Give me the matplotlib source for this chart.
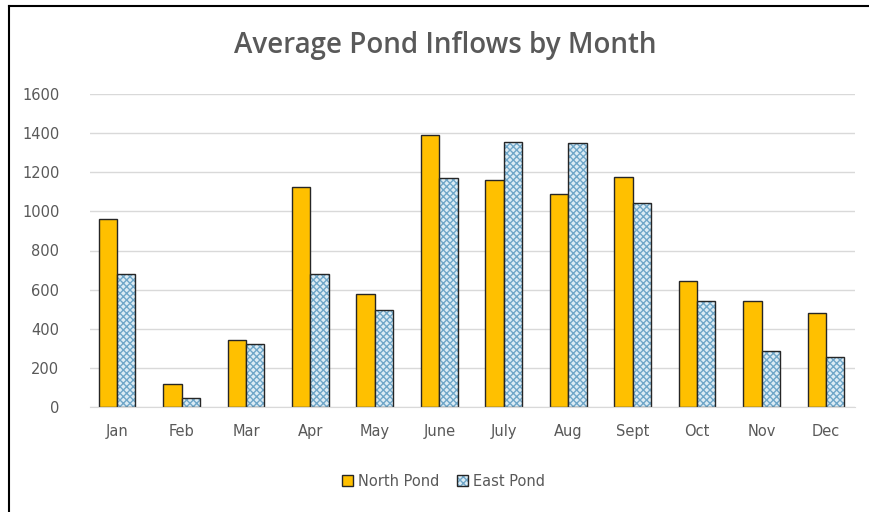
import matplotlib.pyplot as plt
import numpy as np
from matplotlib.lines import Line2D
from matplotlib.patches import Patch
from matplotlib.legend_handler import HandlerTuple

months = ['Jan', 'Feb', 'Mar', 'Apr', 'May', 'June', 'July', 'Aug', 'Sept', 'Oct', 'Nov', 'Dec']
north_pond = [960, 120, 345, 1125, 580, 1390, 1160, 1090, 1175, 645, 540, 480]
east_pond = [680, 45, 320, 680, 495, 1170, 1355, 1350, 1045, 540, 286, 256]
y_ticks = [0, 200, 400, 600, 800, 1000, 1200, 1400, 1600]

NORTH_COLOR = '#ffc000'
EAST_FACE = '#dcecf5'
EAST_HATCH = '#6fa6c8'
EDGE = '#262626'
TEXT_GRAY = '#595959'

plt.rcParams['hatch.linewidth'] = 1.0

fig = plt.figure(figsize=(8.69, 5.12), dpi=100)
ax = fig.add_axes([90 / 869, 1 - 407 / 512, 765 / 869, 313 / 512])

x = np.arange(len(months))
w = 0.285

ax.bar(x - w / 2, north_pond, w, color=NORTH_COLOR, edgecolor=EDGE, linewidth=1.0, zorder=3)
# hatched fill first, then a plain outline on top so the edge stays dark
ax.bar(x + w / 2, east_pond, w, color=EAST_FACE, hatch='xxxxx', edgecolor=EAST_HATCH, linewidth=0, zorder=3)
ax.bar(x + w / 2, east_pond, w, fill=False, edgecolor=EDGE, linewidth=1.0, zorder=4)

ax.set_xlim(-0.42, len(months) - 1 + 0.45)
ax.set_ylim(0, 1600)
ax.set_yticks(y_ticks)
ax.set_xticks(x)
ax.set_xticklabels(months)
ax.tick_params(axis='both', length=0, labelsize=10.5, colors=TEXT_GRAY)
ax.tick_params(axis='x', pad=12)
ax.tick_params(axis='y', pad=22)
ax.yaxis.grid(True, color='#d9d9d9', linewidth=1.0, zorder=0)
ax.set_axisbelow(True)
for s in ['top', 'right', 'left']:
    ax.spines[s].set_visible(False)
ax.spines['bottom'].set_color('#d9d9d9')
ax.spines['bottom'].set_zorder(5)

fig.text(0.512, 1 - 45 / 512, 'Average Pond Inflows by Month', ha='center', va='center',
         fontsize=20, fontweight='semibold', color=TEXT_GRAY, family='Open Sans')

north_handle = Patch(facecolor=NORTH_COLOR, edgecolor=EDGE, linewidth=1.0)
east_handle = (Patch(facecolor=EAST_FACE, edgecolor=EAST_HATCH, hatch='xxxxx', linewidth=0),
               Patch(fill=False, edgecolor=EDGE, linewidth=1.0))
fig.legend([north_handle, east_handle], ['North Pond', 'East Pond'], loc='center',
           bbox_to_anchor=(0.51, 1 - 481 / 512), ncol=2, frameon=False, fontsize=10.5,
           labelcolor=TEXT_GRAY, handlelength=0.8, handleheight=0.8, handletextpad=0.3,
           columnspacing=1.2, handler_map={tuple: HandlerTuple(ndivide=1, pad=0)})

# outer frame (left and top edges)
fig.add_artist(Line2D([9 / 869, 9 / 869], [0, 1 - 6 / 512], transform=fig.transFigure, color='black', linewidth=1.5))
fig.add_artist(Line2D([9 / 869, 1], [1 - 6 / 512, 1 - 6 / 512], transform=fig.transFigure, color='black', linewidth=1.5))

fig.savefig('out.png', dpi=100)
